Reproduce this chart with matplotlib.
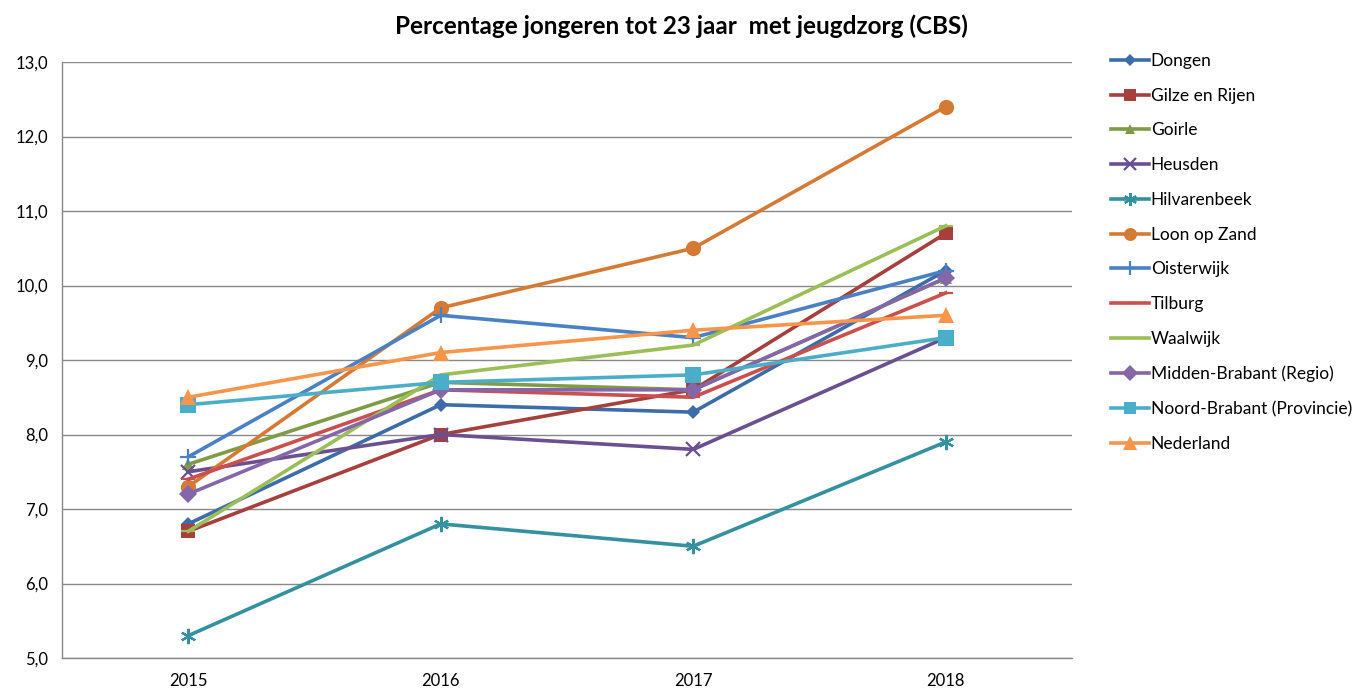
import matplotlib
matplotlib.use("Agg")
import matplotlib.pyplot as plt
from matplotlib.ticker import FuncFormatter

plt.rcParams['font.family'] = ['Lato', 'DejaVu Sans']

years = ["2015", "2016", "2017", "2018"]

dongen = [6.8, 8.4, 8.3, 10.2]
gilze = [6.7, 8.0, 8.6, 10.7]
goirle = [7.6, 8.7, 8.6, 10.1]
heusden = [7.5, 8.0, 7.8, 9.3]
hilvarenbeek = [5.3, 6.8, 6.5, 7.9]
loon = [7.3, 9.7, 10.5, 12.4]
oisterwijk = [7.7, 9.6, 9.3, 10.2]
tilburg = [7.4, 8.6, 8.5, 9.9]
waalwijk = [6.7, 8.8, 9.2, 10.8]
midden = [7.2, 8.6, 8.6, 10.1]
noord = [8.4, 8.7, 8.8, 9.3]
nederland = [8.5, 9.1, 9.4, 9.6]

labels = ["Dongen", "Gilze en Rijen", "Goirle", "Heusden", "Hilvarenbeek",
          "Loon op Zand", "Oisterwijk", "Tilburg", "Waalwijk",
          "Midden-Brabant (Regio)", "Noord-Brabant (Provincie)", "Nederland"]
series = [dongen, gilze, goirle, heusden, hilvarenbeek, loon, oisterwijk,
          tilburg, waalwijk, midden, noord, nederland]

colors = ["#3C6DA8", "#A5403D", "#7E9B45", "#6A508E", "#35919F", "#D57A34",
          "#4A80C4", "#C9504C", "#9BBE58", "#8566A8", "#4BAEC9", "#F7954A"]
markers = ["D", "s", "^", "x", "*", "o", "+", "_", "_", "D", "s", "^"]
msizes = [7.5, 10, 9, 10, 11, 11, 12, 10, 10, 9.5, 11, 11.5]

fig = plt.figure(figsize=(13.59, 6.93), dpi=100)
ax = fig.add_axes([62 / 1359, 1 - 658 / 693, (1072 - 62) / 1359, (658 - 62) / 693])

x = list(range(len(years)))
handles = []
for s, lab, c, m, ms in zip(series, labels, colors, markers, msizes):
    if m == "*":
        h, = ax.plot(x, s, color=c, lw=2.6, marker=(6, 2, 0), ms=ms, mew=1.6,
                     label=lab, zorder=3)
    elif m in ("x", "+", "_"):
        h, = ax.plot(x, s, color=c, lw=2.6, marker=m, ms=ms, mew=1.6,
                     label=lab, zorder=3)
    else:
        h, = ax.plot(x, s, color=c, lw=2.6, marker=m, ms=ms, mew=0,
                     label=lab, zorder=3)
    handles.append(h)

ax.set_xlim(-0.5, 3.5)
ax.set_ylim(5.0, 13.0)
ax.set_xticks(x)
ax.set_xticklabels(years)
ax.set_yticks([5, 6, 7, 8, 9, 10, 11, 12, 13])
ax.yaxis.set_major_formatter(FuncFormatter(lambda v, p: f"{v:.1f}".replace(".", ",")))
ax.grid(axis="y", color="#888888", lw=1.0)
ax.set_axisbelow(True)
ax.tick_params(length=0, labelsize=12, colors="#000000")
ax.tick_params(axis="y", pad=10)
ax.tick_params(axis="x", pad=11)
for sp in ["top", "right"]:
    ax.spines[sp].set_visible(False)
for sp in ["left", "bottom"]:
    ax.spines[sp].set_color("#888888")
    ax.spines[sp].set_linewidth(1.0)

fig.text(0.5 * (395 + 968) / 1359, 1 - 26 / 693,
         "Percentage jongeren tot 23 jaar  met jeugdzorg (CBS)",
         ha="center", va="center", fontsize=17.5, fontweight="bold")

leg = fig.legend(handles=handles, loc="upper left",
                 bbox_to_anchor=(1104 / 1359, 1 - 46 / 693),
                 frameon=False, fontsize=12.5, handlelength=2.2,
                 handletextpad=0.1, labelspacing=1.08, borderaxespad=0,
                 markerscale=0.85)

fig.savefig("out.png", dpi=100)
